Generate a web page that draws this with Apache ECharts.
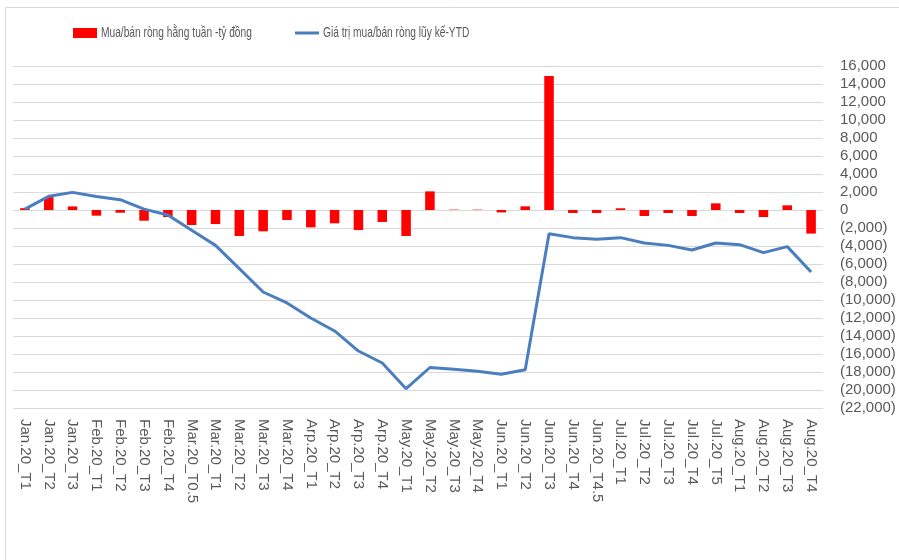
<!DOCTYPE html>
<html>
<head>
<meta charset="utf-8">
<script src="https://cdn.jsdelivr.net/npm/echarts@6/dist/echarts.min.js"></script>
<style>html,body{margin:0;padding:0;background:#fff;}#c{width:899px;height:560px;}</style>
</head>
<body>
<div id="c"></div>
<script>
const categories = ['Jan.20_T1','Jan.20_T2','Jan.20_T3','Feb.20_T1','Feb.20_T2','Feb.20_T3','Feb.20_T4','Mar.20_T0.5','Mar.20_T1','Mar.20_T2','Mar.20_T3','Mar.20_T4','Arp.20_T1','Arp.20_T2','Arp.20_T3','Arp.20_T4','May.20_T1','May.20_T2','May.20_T3','May.20_T4','Jun.20_T1','Jun.20_T2','Jun.20_T3','Jun.20_T4','Jun.20_T4.5','Jul.20_T1','Jul.20_T2','Jul.20_T3','Jul.20_T4','Jul.20_T5','Aug.20_T1','Aug.20_T2','Aug.20_T3','Aug.20_T4'];
const weeklyNet = [200,1440,400,-630,-300,-1190,-780,-1670,-1560,-2890,-2370,-1110,-1930,-1480,-2220,-1330,-2890,2070,40,40,-270,410,14900,-330,-330,190,-670,-330,-670,740,-330,-780,520,-2620];
const cumulativeYTD = [100,1520,1960,1500,1150,100,-560,-2260,-3930,-6520,-9110,-10330,-12000,-13440,-15670,-17000,-19850,-17500,-17700,-17920,-18260,-17740,-2630,-3070,-3260,-3070,-3670,-3930,-4440,-3670,-3850,-4740,-4070,-6900];
const seriesNames = ['Mua/bán ròng hằng tuần -tỷ đồng', 'Giá trị mua/bán ròng lũy kế-YTD'];
const yMin = -22000, yMax = 16000, yStep = 2000;

const barColor = '#ff0000', lineColor = '#4a7ebf';
const chart = echarts.init(document.getElementById('c'), null, {renderer: 'canvas'});
const fmt = v => {
  const s = Math.abs(v).toLocaleString('en-US');
  return v < 0 ? '(' + s + ')' : s;
};
const legFont = "15px 'Liberation Sans', Arial, sans-serif";
chart.setOption({
  animation: false,
  backgroundColor: '#fff',
  graphic: [
    {type: 'rect', silent: true, shape: {x: 5.5, y: 7.5, width: 1000, height: 1000},
     style: {fill: 'none', stroke: '#d9d9d9', lineWidth: 1}},
    {type: 'rect', silent: true, shape: {x: 73, y: 28, width: 24, height: 10}, style: {fill: barColor}},
    {type: 'text', silent: true, x: 101, y: 33, scaleX: 0.68,
     style: {text: seriesNames[0], font: legFont, fill: '#595959', verticalAlign: 'middle'}},
    {type: 'line', silent: true, shape: {x1: 295, y1: 33, x2: 319, y2: 33}, style: {stroke: lineColor, lineWidth: 3}},
    {type: 'text', silent: true, x: 323, y: 33, scaleX: 0.68,
     style: {text: seriesNames[1], font: legFont, fill: '#595959', verticalAlign: 'middle'}}
  ],
  grid: {left: 13, right: 76, top: 66, bottom: 152, containLabel: false},
  xAxis: {
    type: 'category', data: categories, boundaryGap: true,
    axisLine: {show: false}, axisTick: {show: false},
    axisLabel: {rotate: -90, interval: 0, margin: 11, color: '#595959', fontSize: 15, fontFamily: "'Liberation Sans', Arial, sans-serif"}
  },
  yAxis: {
    type: 'value', position: 'right', min: yMin, max: yMax, interval: yStep,
    axisLine: {show: false}, axisTick: {show: false},
    splitLine: {lineStyle: {color: '#d9d9d9', width: 1}},
    axisLabel: {formatter: fmt, align: 'left', margin: 17, color: '#595959', fontSize: 15, fontFamily: "'Liberation Sans', Arial, sans-serif"}
  },
  series: [
    {name: seriesNames[0], type: 'bar', data: weeklyNet, barWidth: '40%', itemStyle: {color: barColor}},
    {name: seriesNames[1], type: 'line', data: cumulativeYTD, symbol: 'none', showSymbol: false,
     lineStyle: {color: lineColor, width: 3}, itemStyle: {color: lineColor}}
  ]
});
</script>
</body>
</html>
